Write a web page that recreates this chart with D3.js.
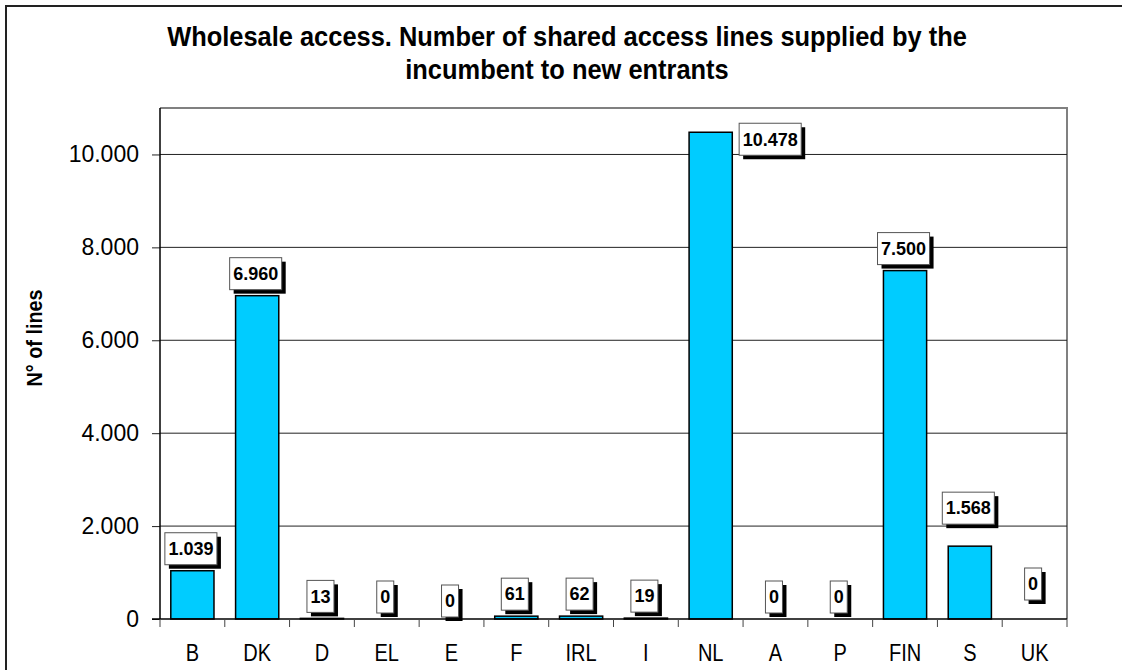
<!DOCTYPE html>
<html>
<head>
<meta charset="utf-8">
<script src="https://cdn.jsdelivr.net/npm/d3@7"></script>
<style>
  body { margin: 0; background: #fff; }
  svg { display: block; font-family: "Liberation Sans", Arial, sans-serif; }
</style>
</head>
<body>
<svg id="chart"></svg>
<script>
// Data

const categories = ["B", "DK", "D", "EL", "E", "F", "IRL", "I", "NL", "A", "P", "FIN", "S", "UK"];
const lineCounts = [1039, 6960, 13, 0, 0, 61, 62, 19, 10478, 0, 0, 7500, 1568, 0];
const yTickValues = [0, 2000, 4000, 6000, 8000, 10000];
const titleLines = [
  "Wholesale access. Number of shared access lines supplied by the",
  "incumbent to new entrants"
];
const yTitle = "N° of lines";

// Layout

const width = 1122;
const height = 670;
const plot = { left: 160, right: 1067, top: 108, bottom: 619 };

// hand-moved labels in the original (dx, dy in px)
const labelNudge = { NL: [61, 29], E: [0, 4], S: [0, -16], UK: [0, -13] };

const barColor = "#00ccff";

// numbers use "." as thousands separator
const locale = d3.formatLocale({ decimal: ",", thousands: ".", grouping: [3], currency: ["", ""] });
const fmt = locale.format(",d");

const svg = d3.select("#chart")
  .attr("width", width)
  .attr("height", height);

// outer chart frame
svg.append("rect")
  .attr("x", 6).attr("y", 6)
  .attr("width", width).attr("height", height)
  .attr("fill", "#fff")
  .attr("stroke", "#222")
  .attr("stroke-width", 2);

// scales

const x = d3.scaleBand()
  .domain(categories)
  .range([plot.left, plot.right])
  .paddingInner(1 / 3)
  .paddingOuter(1 / 6);

const xEdge = d3.scaleLinear()
  .domain([0, categories.length])
  .range([plot.left, plot.right]);

const y = d3.scaleLinear()
  .domain([0, 11000])
  .range([plot.bottom, plot.top]);

// plot area frame (top + right are grey)
svg.append("path")
  .attr("d", `M${plot.left},${plot.top}H${plot.right}V${plot.bottom}`)
  .attr("fill", "none")
  .attr("stroke", "#808080")
  .attr("stroke-width", 2);

// gridlines
svg.append("g")
  .selectAll("line")
  .data(yTickValues.filter(d => d > 0))
  .join("line")
  .attr("x1", plot.left).attr("x2", plot.right)
  .attr("y1", d => y(d)).attr("y2", d => y(d))
  .attr("stroke", "#222")
  .attr("stroke-width", 1);

// y axis
const yAxis = svg.append("g")
  .attr("transform", `translate(${plot.left},0)`)
  .call(d3.axisLeft(y).tickValues(yTickValues).tickSize(8).tickPadding(13).tickFormat(fmt));
yAxis.select(".domain").remove();
yAxis.selectAll(".tick line").attr("stroke", "#222");
yAxis.selectAll(".tick text")
  .attr("font-size", 23)
  .attr("font-family", "'Liberation Sans', Arial, sans-serif")
  .attr("fill", "#000");

// bars
svg.append("g")
  .selectAll("rect")
  .data(categories)
  .join("rect")
  .attr("x", d => x(d))
  .attr("width", x.bandwidth())
  .attr("y", (d, i) => y(lineCounts[i]))
  .attr("height", (d, i) => y(0) - y(lineCounts[i]))
  .attr("fill", barColor)
  .attr("stroke", "#000")
  .attr("stroke-width", 1.5);

// axis lines
svg.append("line")
  .attr("x1", plot.left).attr("x2", plot.left)
  .attr("y1", plot.top).attr("y2", plot.bottom)
  .attr("stroke", "#000").attr("stroke-width", 1.5);
svg.append("line")
  .attr("x1", plot.left - 8).attr("x2", plot.right)
  .attr("y1", plot.bottom).attr("y2", plot.bottom)
  .attr("stroke", "#000").attr("stroke-width", 1.5);

// x ticks on category edges
svg.append("g")
  .selectAll("line")
  .data(d3.range(categories.length + 1))
  .join("line")
  .attr("x1", d => xEdge(d)).attr("x2", d => xEdge(d))
  .attr("y1", plot.bottom).attr("y2", plot.bottom + 8)
  .attr("stroke", "#444");

// category labels
svg.append("g")
  .selectAll("text")
  .data(categories)
  .join("text")
  .attr("transform", d => `translate(${x(d) + x.bandwidth() / 2},661) scale(0.87,1)`)
  .attr("text-anchor", "middle")
  .attr("font-size", 23)
  .text(d => d);

// value labels: white box with a black drop shadow
const labelG = svg.append("g")
  .selectAll("g")
  .data(categories)
  .join("g")
  .attr("transform", (d, i) => {
    const n = labelNudge[d] || [0, 0];
    const cx = x(d) + x.bandwidth() / 2 - 1.5 + n[0];
    const cy = y(lineCounts[i]) - 6 - 16 + n[1];
    return `translate(${cx},${cy})`;
  });

labelG.append("text")
  .attr("class", "val")
  .attr("text-anchor", "middle")
  .attr("dy", "0.35em")
  .attr("font-size", 18)
  .attr("font-weight", "bold")
  .text((d, i) => fmt(lineCounts[i]));

labelG.each(function () {
  const g = d3.select(this);
  const t = g.select("text");
  const w = t.node().getComputedTextLength() + 7;
  const h = 32;
  g.insert("rect", "text")
    .attr("x", -w / 2 + 4).attr("y", -h / 2 + 4)
    .attr("width", w).attr("height", h)
    .attr("fill", "#000");
  g.insert("rect", "text")
    .attr("x", -w / 2).attr("y", -h / 2)
    .attr("width", w).attr("height", h)
    .attr("fill", "#fff")
    .attr("stroke", "#555")
    .attr("stroke-width", 1);
});

// title (bold, slightly condensed as in the original)
const title = svg.append("g");
const titleText = title.selectAll("text")
  .data(titleLines)
  .join("text")
  .attr("text-anchor", "middle")
  .attr("font-size", 28)
  .attr("font-weight", "bold")
  .text(d => d);
const natural = titleText.node().getComputedTextLength();
const squeeze = 800 / natural;
titleText.attr("transform", (d, i) => `translate(567,${46 + i * 33}) scale(${squeeze},1)`);

// y axis title
const yt = svg.append("text")
  .attr("text-anchor", "middle")
  .attr("font-size", 22)
  .attr("font-weight", "bold")
  .text(yTitle);
const ySqueeze = 97 / yt.node().getComputedTextLength();
yt.attr("transform", `translate(42,338) rotate(-90) scale(${ySqueeze},1)`);
</script>
</body>
</html>
